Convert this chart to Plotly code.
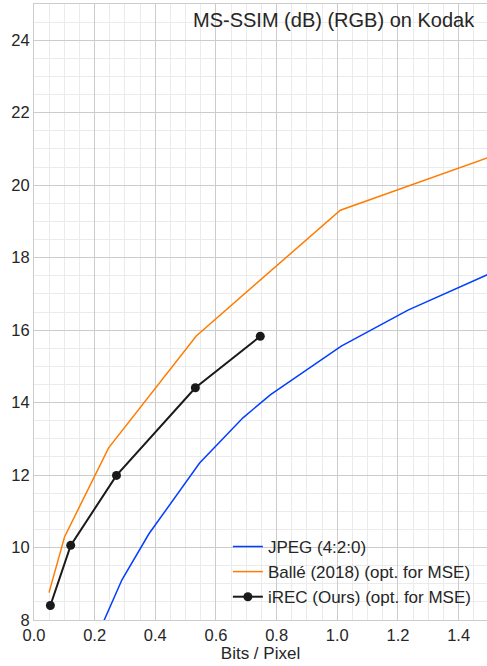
import plotly.graph_objects as go

# Data (bits per pixel, MS-SSIM dB)
jpeg_bpp = [0.20, 0.29, 0.379, 0.546, 0.689, 0.78, 1.013, 1.233, 1.50]
jpeg_msssim = [7.40, 9.11, 10.38, 12.33, 13.58, 14.22, 15.56, 16.55, 17.55]

balle_bpp = [0.0495, 0.101, 0.246, 0.535, 1.010, 1.50]
balle_msssim = [8.755, 10.30, 12.75, 15.84, 19.31, 20.77]

irec_bpp = [0.054, 0.121, 0.272, 0.532, 0.746]
irec_msssim = [8.40, 10.06, 11.99, 14.41, 15.83]

x_ticks = [0.0, 0.2, 0.4, 0.6, 0.8, 1.0, 1.2, 1.4]
y_ticks = [8, 10, 12, 14, 16, 18, 20, 22, 24]

FONT = "Liberation Sans, Arial, sans-serif"
TXT = "#262626"

fig = go.Figure()
fig.add_trace(go.Scatter(x=jpeg_bpp, y=jpeg_msssim, mode="lines",
                         name="JPEG (4:2:0)", line=dict(color="#023eff", width=1.5),
                         legendgroup="a"))
fig.add_trace(go.Scatter(x=balle_bpp, y=balle_msssim, mode="lines",
                         name="Ballé (2018) (opt. for MSE)", line=dict(color="#ff7c00", width=1.5),
                         legendgroup="b"))
fig.add_trace(go.Scatter(x=irec_bpp, y=irec_msssim, mode="lines+markers",
                         name="iREC (Ours) (opt. for MSE)", line=dict(color="#1a1a1a", width=2),
                         marker=dict(color="#1a1a1a", size=9),
                         legendgroup="c"))

fig.update_layout(
    width=487, height=666,
    margin=dict(l=34, r=0, t=4, b=46),
    paper_bgcolor="white", plot_bgcolor="white",
    font=dict(family=FONT, size=16.5, color=TXT),
    showlegend=True,
    legend=dict(x=0.428, xanchor="left", y=0.078, yanchor="middle",
                bgcolor="rgba(0,0,0,0)", font=dict(size=17, color=TXT),
                tracegroupgap=0),
    annotations=[dict(text="MS-SSIM (dB) (RGB) on Kodak", xref="paper", yref="paper",
                      x=0.977, y=0.974, xanchor="right", yanchor="middle",
                      showarrow=False, font=dict(size=20, color=TXT))],
)
fig.update_xaxes(range=[0, 1.4935], tickvals=x_ticks, ticktext=[f"{v:.1f}" for v in x_ticks],
                 showgrid=True, gridcolor="#cccccc", gridwidth=1,
                 minor=dict(dtick=0.05, showgrid=True, gridcolor="#ebebeb", gridwidth=1),
                 showline=True, linecolor="#cccccc", linewidth=1, mirror=True,
                 zeroline=False, ticks="", tickfont=dict(size=16.5, color=TXT),
                 title=dict(text="Bits / Pixel", font=dict(size=17, color=TXT), standoff=2))
fig.update_yaxes(range=[8, 25], tickvals=y_ticks,
                 showgrid=True, gridcolor="#cccccc", gridwidth=1,
                 minor=dict(dtick=0.5, showgrid=True, gridcolor="#ebebeb", gridwidth=1),
                 showline=True, linecolor="#cccccc", linewidth=1, mirror=True,
                 zeroline=False, ticks="", tickfont=dict(size=16.5, color=TXT))

fig.write_html("out.html")
